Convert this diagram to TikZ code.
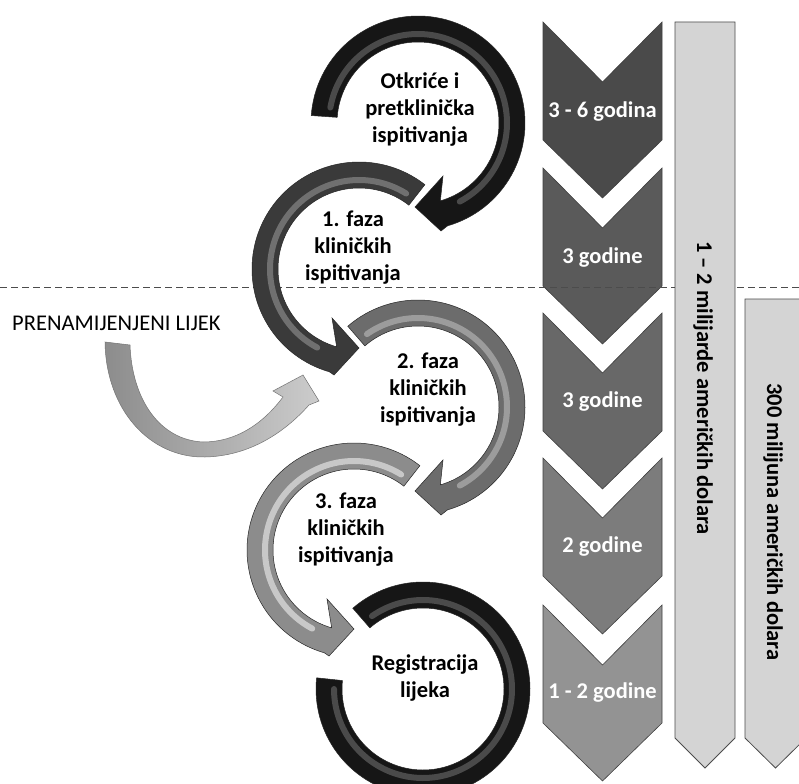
\documentclass[tikz,border=0pt]{standalone}
\usepackage{fontspec}
\setmainfont{Carlito}
\definecolor{arrA}{HTML}{161616}
\definecolor{arrB}{HTML}{3A3A3A}
\definecolor{arrC}{HTML}{6C6C6C}
\definecolor{arrD}{HTML}{8C8C8C}
\definecolor{hlA}{HTML}{4A4A4A}
\definecolor{hlB}{HTML}{707070}
\definecolor{hlC}{HTML}{9C9C9C}
\definecolor{hlD}{HTML}{C8C8C8}
\definecolor{chevA}{HTML}{4A4A4A}
\definecolor{chevB}{HTML}{5A5A5A}
\definecolor{chevC}{HTML}{686868}
\definecolor{chevD}{HTML}{7C7C7C}
\definecolor{chevE}{HTML}{939393}
\definecolor{barfill}{HTML}{D4D4D4}
\tikzset{
  lbl/.style={font=\bfseries\fontsize{22.5}{27}\selectfont, align=center, inner sep=0pt, text=black},
  replbl/.style={font=\fontsize{22.5}{27}\selectfont, inner sep=0pt, text=black},
  chevlbl/.style={lbl, text=white},
  barlbl/.style={lbl, rotate=-90},
  chevshape/.style={draw=black!75, line width=0.6pt},
  barshape/.style={fill=barfill, draw=black!70, line width=0.8pt},
  ringedge/.style={draw=black!85, line width=0.5pt},
  hlstripe/.style={line width=6pt, line cap=round},
  sepline/.style={dash pattern=on 7pt off 4pt, draw=black!70, line width=0.8pt},
}
\begin{document}
\begin{tikzpicture}[x=1pt,y=-1pt]
\useasboundingbox (0,0) rectangle (799,783);
\clip (0,0) rectangle (799,783);
\fill[white] (0,0) rectangle (799,783);

% chevrons (durations)
\foreach \y/\c in {22/chevA, 168/chevB, 313/chevC, 458/chevD, 605/chevE} {
  \filldraw[chevshape, fill=\c] (543,\y) -- (602.5,\y+60) -- (662,\y) -- (662,\y+118)
     -- (602.5,\y+176) -- (543,\y+118) -- cycle;
}
\node[chevlbl] (d1) at (602.5,112) {3 - 6 godina};
\node[chevlbl] (d2) at (602.5,258) {3 godine};
\node[chevlbl] (d3) at (602.5,402) {3 godine};
\node[chevlbl] (d4) at (602.5,547) {2 godine};
\node[chevlbl] (d5) at (602.5,693) {1 - 2 godine};

% separator
\coordinate (sepL) at (0,287);
\coordinate (sepR) at (799,287);
\draw[sepline] (sepL) -- (sepR);

% ring centres
\coordinate (c1) at (418,123);
\coordinate (c2) at (359,269);
\coordinate (c3) at (418,407);
\coordinate (c4) at (354,550);
\coordinate (c5) at (423,689);

% ring 5 (no head)
\filldraw[ringedge, fill=arrA, shift={(c5)}] plot[domain=229:546, samples=120] (\x:107)
   -- plot[domain=546:229, samples=120] (\x:81) -- cycle;
\draw[hlstripe, hlA, shift={(c5)}] plot[domain=235:540, samples=120] (\x:89);

% ring 4
\filldraw[ringedge, fill=arrD, shift={(c4)}] plot[domain=308:106, samples=90] (\x:107)
   -- (-25,106) -- (0,79) -- (-27,49) -- plot[domain=106:308, samples=90] (\x:81) -- cycle;
\draw[hlstripe, hlD, shift={(c4)}] plot[domain=302:118, samples=90] (\x:89);

% ring 3
\filldraw[ringedge, fill=arrC, shift={(c3)}] plot[domain=229:434, samples=90] (\x:107)
   -- (23,108) -- (-3,84) -- (25,53) -- plot[domain=434:229, samples=90] (\x:81) -- cycle;
\draw[hlstripe, hlC, shift={(c3)}] plot[domain=235:422, samples=90] (\x:89);

% ring 2
\filldraw[ringedge, fill=arrB, shift={(c2)}] plot[domain=308:106, samples=90] (\x:107)
   -- (-25,106) -- (0,79) -- (-27,49) -- plot[domain=106:308, samples=90] (\x:81) -- cycle;
\draw[hlstripe, hlB, shift={(c2)}] plot[domain=302:118, samples=90] (\x:89);

% ring 1
\filldraw[ringedge, fill=arrA, shift={(c1)}] plot[domain=184:434, samples=90] (\x:107)
   -- (23,108) -- (-3,84) -- (25,53) -- plot[domain=434:184, samples=90] (\x:81) -- cycle;
\draw[hlstripe, hlA, shift={(c1)}] plot[domain=190:422, samples=90] (\x:89);

% repurposed drug arrow
\path[draw=black!55, line width=0.5pt, left color=black!45, right color=black!20]
  (105,342) .. controls (106,410) and (150,458) .. (205,457)
  .. controls (250,456) and (285,432) .. (309,405)
  -- (319,401) -- (303,375) -- (273,391) -- (283,397)
  .. controls (262,425) and (235,442) .. (203,442)
  .. controls (160,440) and (132,400) .. (130,345) -- cycle;

% stage labels
\node[lbl] (s1) at (420,110) {Otkriće i\\pretklinička\\ispitivanja};
\node[lbl] (s2) at (353,248) {1. faza\\kliničkih\\ispitivanja};
\node[lbl] (s3) at (428,390) {2. faza\\kliničkih\\ispitivanja};
\node[lbl] (s4) at (346,530) {3. faza\\kliničkih\\ispitivanja};
\node[lbl] (s5) at (425,678) {Registracija\\lijeka};
\node[replbl, anchor=west] (rep) at (12,323) {PRENAMIJENJENI LIJEK};

% cost bars
\filldraw[barshape] (675,22) -- (735,22) -- (735,738) -- (705,768) -- (675,738) -- cycle;
\filldraw[barshape] (745,299) -- (806,299) -- (806,738) -- (775.5,768) -- (745,738) -- cycle;
\node[barlbl] (cost1) at (703,388) {1 – 2 milijarde američkih dolara};
\node[barlbl] (cost2) at (773,522) {300 milijuna američkih dolara};
\end{tikzpicture}
\end{document}
